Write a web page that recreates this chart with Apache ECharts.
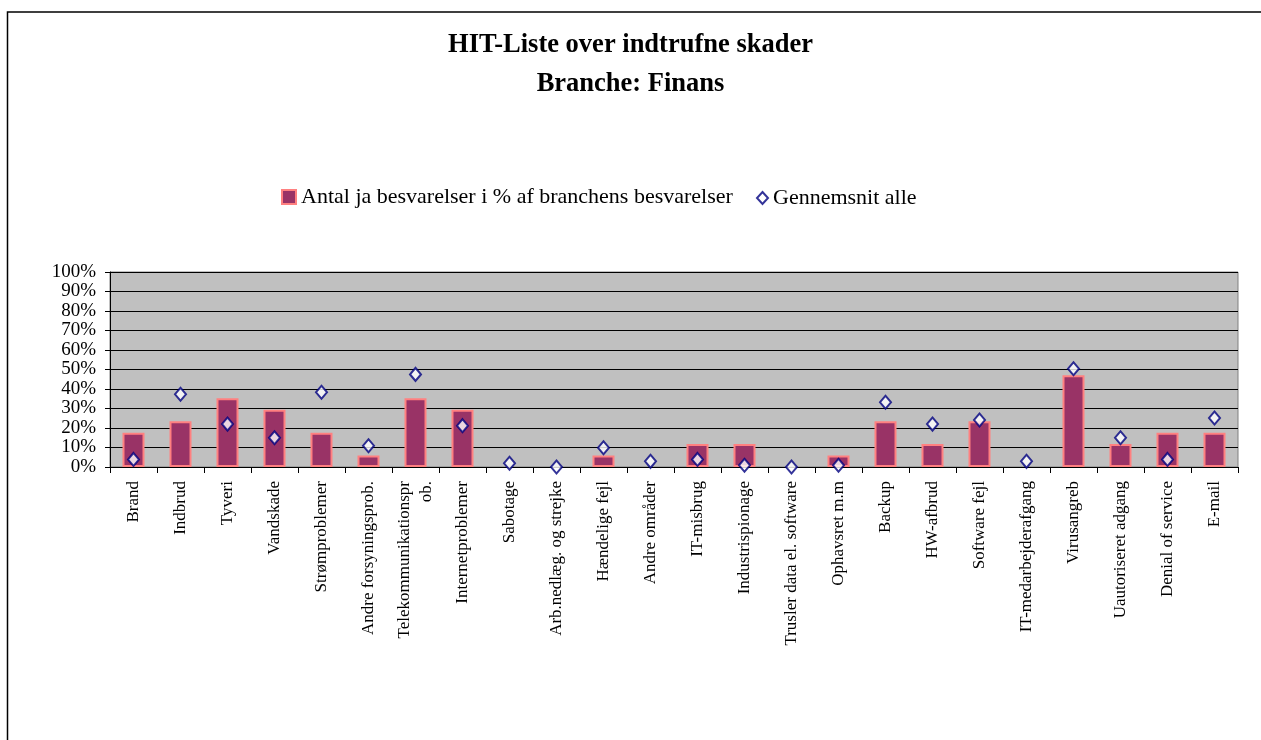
<!DOCTYPE html>
<html>
<head>
<meta charset="utf-8">
<script src="https://cdn.jsdelivr.net/npm/echarts@6/dist/echarts.min.js"></script>
<style>
html, body { margin: 0; padding: 0; background: #fff; }
#chart { width: 1261px; height: 740px; }
</style>
</head>
<body>
<div id="chart"></div>
<script>
var categories = ['Brand', 'Indbrud', 'Tyveri', 'Vandskade', 'Strømproblemer', 'Andre forsyningsprob.',
	'Telekommunikationspr\nob.', 'Internetproblemer', 'Sabotage', 'Arb.nedlæg. og strejke', 'Hændelige fejl',
	'Andre områder', 'IT-misbrug', 'Industrispionage', 'Trusler data el. software', 'Ophavsret m.m',
	'Backup', 'HW-afbrud', 'Software fejl', 'IT-medarbejderafgang', 'Virusangreb', 'Uautoriseret adgang',
	'Denial of service', 'E-mail'];
var branche = [17.6, 23.5, 35.3, 29.4, 17.6, 5.9, 35.3, 29.4, 0, 0, 5.9, 0, 11.8, 11.8, 0, 5.9,
	23.5, 11.8, 23.5, 0, 47.1, 11.8, 17.6, 17.6];
var alle = [3.9, 37.3, 22, 15, 38.3, 10.9, 47.5, 21.2, 1.9, 0, 9.9, 2.9, 3.9, 0.9, 0, 0.9,
	33.2, 22, 24.1, 2.9, 50.4, 15, 3.9, 25.1];
var serif = '"Liberation Serif", "DejaVu Serif", serif';
var barName = 'Antal ja besvarelser i % af branchens besvarelser';
var avgName = 'Gennemsnit alle';

// Excel tegner ikke en kant paa nul-soejler
var barData = branche.map(function(v) {
	if (v === 0) {
		return { value: v, itemStyle: { borderWidth: 0 } };
	}
	return v;
});

var myChart = echarts.init(document.getElementById('chart'));
var option = {
	backgroundColor: '#fff',
	animation: false,
	graphic: [{
		type: 'rect',
		shape: { x: 7.5, y: 12, width: 1270, height: 740 },
		style: { fill: 'none', stroke: '#000', lineWidth: 1.5 },
		silent: true
	}],
	title: [{
		text: 'HIT-Liste over indtrufne skader',
		left: 'center',
		top: 27,
		textStyle: { fontFamily: serif, fontSize: 26.5, fontWeight: 'bold', color: '#000' }
	}, {
		text: 'Branche: Finans',
		left: 'center',
		top: 66,
		textStyle: { fontFamily: serif, fontSize: 26.5, fontWeight: 'bold', color: '#000' }
	}],
	legend: [{
		top: 181,
		left: 276,
		itemWidth: 14,
		itemHeight: 14,
		itemGap: 5,
		textStyle: { fontFamily: serif, fontSize: 22, color: '#000' },
		data: [{ name: barName, icon: 'rect' }]
	}, {
		top: 182,
		left: 751,
		itemWidth: 11,
		itemHeight: 12,
		textStyle: { fontFamily: serif, fontSize: 22, color: '#000' },
		data: [{ name: avgName, icon: 'diamond' }]
	}],
	grid: {
		left: 110,
		right: 23,
		top: 272,
		bottom: 273,
		show: true,
		backgroundColor: '#C0C0C0',
		borderColor: '#808080',
		borderWidth: 1
	},
	xAxis: {
		type: 'category',
		data: categories,
		axisLine: { lineStyle: { color: '#000', width: 1 } },
		axisTick: { show: true, length: 6, lineStyle: { color: '#000' } },
		axisLabel: {
			rotate: 90,
			interval: 0,
			margin: 14,
			fontFamily: serif,
			fontSize: 17,
			color: '#000',
			lineHeight: 22
		}
	},
	yAxis: {
		type: 'value',
		min: 0,
		max: 100,
		interval: 10,
		axisLine: { show: true, lineStyle: { color: '#000' } },
		axisTick: { show: true, length: 5, lineStyle: { color: '#000' } },
		splitLine: { lineStyle: { color: '#000', width: 1 } },
		axisLabel: {
			formatter: '{value}%',
			margin: 14,
			fontFamily: serif,
			fontSize: 19,
			color: '#000'
		}
	},
	series: [{
		name: barName,
		type: 'bar',
		data: barData,
		barWidth: 22,
		itemStyle: { color: '#993366', borderColor: '#FF8080', borderWidth: 2 }
	}, {
		name: avgName,
		type: 'scatter',
		data: alle,
		symbol: 'diamond',
		symbolSize: [11, 13],
		itemStyle: { color: '#fff', borderColor: '#000080', borderWidth: 2 }
	}]
};
myChart.setOption(option);
</script>
</body>
</html>
